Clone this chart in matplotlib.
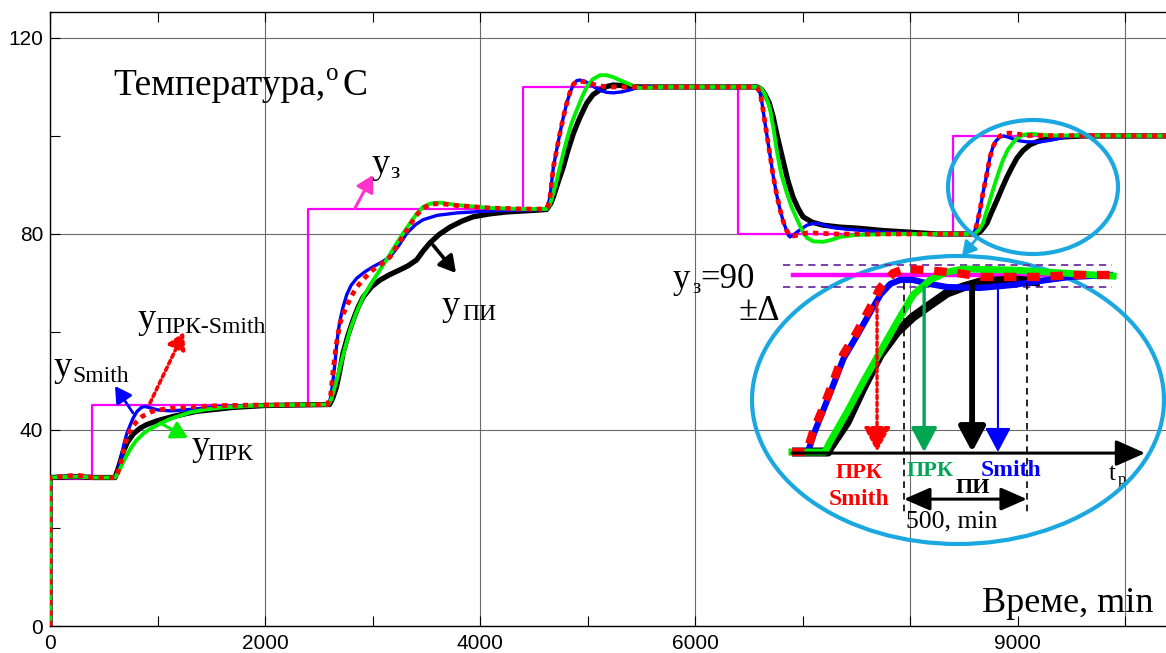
import matplotlib
matplotlib.use('Agg')
import matplotlib.pyplot as plt
from matplotlib.patches import Ellipse

plt.rcParams['font.family'] = ['Liberation Sans', 'DejaVu Sans']
SERIF = ['Liberation Serif', 'DejaVu Serif']

# ---------------- data (main chart) ----------------
sp_times = [0, 390, 2400, 4400, 6400, 8400, 10500]
sp_values = [30, 45, 85, 110, 80, 100, 100]

smith_t = [0, 0, 250, 400, 605, 630, 650, 670, 690, 715, 744, 775, 810, 850, 880, 920, 1000, 1120,
           1250, 1400, 1600, 2000,
           2580, 2605, 2620, 2633, 2650, 2665, 2680, 2698, 2725, 2760, 2800, 2855, 2930, 3005, 3080,
           3163, 3240, 3321, 3400, 3470, 3600, 3786, 4093, 4400,
           4600, 4630, 4651, 4683, 4715, 4744, 4775, 4807, 4840, 4870, 4900, 4930, 4970, 5023, 5070,
           5116, 5180, 5240, 5320, 5395, 5470, 5550, 5700,
           6550, 6580, 6605, 6625, 6645, 6670, 6700, 6726, 6760, 6791, 6820, 6850, 6870, 6884, 6910,
           6949, 7000, 7042, 7090, 7135, 7200, 7284, 7400, 7507, 7700, 7900, 8200,
           8586, 8600, 8620, 8651, 8679, 8716, 8744, 8772, 8800, 8837, 8870, 8910, 8958, 9020, 9088,
           9209, 9300, 9367, 9450, 9550, 10500]
smith_y = [0, 30.3, 30.6, 30.3, 30.3, 31.5, 33.2, 35.3, 37.3, 39.3, 40.9, 42.5, 43.8, 44.6, 44.8, 44.6, 44.1, 43.9,
           44.1, 44.4, 44.8, 45,
           45.2, 46.1, 48, 50.2, 53.5, 57, 60, 62.4, 65, 67.6, 69.5, 71, 72.3, 73.3, 74.2,
           75.3, 77.5, 80.2, 81.9, 82.9, 83.8, 84.3, 84.7, 84.9,
           85, 85.6, 87.6, 93.7, 97.4, 100.6, 103.8, 106.7, 109, 110.6, 111.3, 111.4, 111.2, 110.6, 109.9,
           109.3, 108.9, 108.8, 109, 109.4, 109.9, 110.1, 110,
           110, 109.8, 108.8, 106.5, 103.5, 100, 95.8, 92, 88, 85, 82.6, 80.8, 79.7, 79.4, 79.7,
           80.4, 81.2, 81.8, 82.1, 82.2, 81.8, 81.3, 81, 80.8, 80.4, 80.2, 80,
           80, 80.5, 81.8, 84.9, 88.4, 92.4, 95.7, 97.8, 99, 99.8, 100, 99.8, 99.4, 99, 98.8,
           98.8, 99.1, 99.4, 99.8, 100, 100]

prks_t = [0, 0, 250, 400, 605, 630, 660, 690, 720, 760, 810, 860, 950, 1090, 1300, 1600, 2000,
          2580, 2610, 2633, 2660, 2698, 2730, 2760, 2800, 2855, 2930, 3005, 3080, 3163, 3240, 3321,
          3400, 3470, 3550, 3628, 3786, 4093, 4400,
          4600, 4630, 4651, 4683, 4715, 4744, 4775, 4807, 4840, 4870, 4900, 4930, 4980, 5023, 5085,
          5160, 5240, 5700,
          6550, 6580, 6605, 6625, 6645, 6670, 6700, 6726, 6760, 6791, 6820, 6850, 6884, 6920, 6960,
          7042, 7100, 7300,
          8586, 8600, 8620, 8651, 8679, 8716, 8744, 8772, 8805, 8837, 8880, 8930, 8990, 9100, 10500]
prks_y = [0, 30.3, 30.8, 30.3, 30.3, 31.2, 33.5, 36.3, 38.7, 40.5, 41.8, 42.8, 43.8, 44.4, 44.7, 45, 45.1,
          45.2, 47, 52, 57, 61.8, 63.8, 65.2, 67.2, 69.2, 71.1, 72.7, 73.8, 75.3, 78, 80.8,
          83.6, 85.3, 86.1, 86.2, 85.8, 85.3, 85.1,
          85.1, 85.6, 87.6, 93.7, 97.4, 100.6, 103.8, 106.7, 109.1, 110.6, 111.1, 111.2, 111.0, 110.8, 110.3,
          110.1, 110, 110,
          110, 109.8, 108.8, 106.5, 103.5, 100, 95.8, 92, 88, 85, 82.6, 80.8, 79.6, 79.6, 79.8,
          80.2, 80.2, 80,
          80, 80.5, 81.8, 84.9, 88.4, 92.4, 95.7, 97.8, 99.2, 100, 100.5, 100.6, 100.4, 100.1, 100]

prk_t = [0, 0, 250, 400, 605, 650, 700, 750, 800, 870, 930, 1000, 1100, 1178, 1302, 1450, 1609, 1925,
         2590, 2615, 2633, 2665, 2698, 2745, 2791, 2850, 2912, 2990, 3070, 3150, 3228, 3290, 3349,
         3410, 3470, 3540, 3628, 3786, 4093, 4400,
         4620, 4650, 4683, 4714, 4744, 4775, 4807, 4850, 4900, 4950, 4993, 5050, 5116, 5180, 5240,
         5300, 5365, 5430, 5488, 5600, 5700,
         6580, 6620, 6650, 6675, 6698, 6730, 6760, 6800, 6853, 6900, 6949, 6995, 7042, 7100, 7191,
         7270, 7349, 7500, 7800,
         8600, 8640, 8679, 8725, 8772, 8820, 8865, 8910, 8958, 9000, 9051, 9100, 9150, 9300, 10500]
prk_y = [0, 30.3, 30.5, 30.3, 30.3, 32, 34.3, 36.2, 37.8, 39.3, 40.2, 41, 42.1, 42.7, 43.6, 44.2, 44.6, 45,
         45.2, 46.2, 47.5, 50, 52.9, 56.8, 60.4, 64, 67.1, 70, 72.7, 75.4, 78.2, 80.3, 82.2,
         84.1, 85.5, 86.2, 86.4, 85.9, 85.3, 85.1,
         85.1, 86, 88.4, 91, 93.7, 96.5, 99.2, 102.5, 105.3, 108, 110, 111.6, 112.4, 112.4, 112,
         111.4, 110.8, 110.2, 109.8, 109.9, 110,
         110, 109.6, 108.5, 107, 105.5, 101.5, 97.1, 92.4, 88.4, 85.4, 83, 80.8, 79.2, 78.5, 78.4,
         78.8, 79.4, 79.8, 80,
         80, 80.8, 82.2, 85.6, 89, 92.3, 95.1, 97.2, 98.6, 99.6, 100.2, 100.4, 100.4, 100.1, 100]

pi_t = [0, 0, 250, 400, 605, 640, 680, 720, 775, 840, 900, 1000, 1150, 1365, 1700, 2000,
        2600, 2630, 2665, 2695, 2726, 2770, 2819, 2865, 2912, 2990, 3070, 3160, 3256, 3330, 3410,
        3470, 3535, 3620, 3721, 3830, 3935, 4090, 4251, 4558,
        4620, 4660, 4683, 4730, 4775, 4820, 4870, 4930, 4993, 5050, 5116, 5180, 5240, 5320, 5400, 5500,
        6580, 6620, 6650, 6690, 6726, 6770, 6819, 6865, 6912, 6960, 7005, 7090, 7191, 7350, 7507,
        7750, 7972, 8250,
        8620, 8660, 8716, 8760, 8809, 8855, 8902, 8950, 8995, 9050, 9116, 9190, 9274, 9350, 9423,
        9600, 10500]
pi_y = [0, 30.3, 30.5, 30.3, 30.3, 32.5, 35.5, 37.5, 39.2, 40.4, 41.1, 41.9, 42.8, 43.8, 44.6, 45,
        45.2, 46.5, 48.8, 52, 55.7, 59.2, 62.4, 65, 67.1, 69.2, 70.6, 71.7, 72.7, 73.5, 74.7,
        76.5, 78.2, 79.9, 81.4, 82.6, 83.5, 84.1, 84.5, 84.9,
        85, 86.3, 87.6, 90.8, 93.7, 97.2, 100.6, 103.8, 106.7, 108.4, 109.4, 110.1, 110.4, 110.3, 110.1, 110,
        110, 109.5, 108.5, 106.8, 104, 99.5, 95, 90.8, 87.5, 85.2, 83.5, 82.4, 81.8, 81.4, 81.2,
        80.7, 80.4, 80,
        80, 80.6, 82.2, 84.5, 86.9, 89.3, 91.6, 93.7, 95.5, 97, 98.2, 98.9, 99.4, 99.6, 99.8,
        100, 100]

x_major = [0, 2000, 4000, 6000, 8000, 10000]
x_major_labels = ['0', '2000', '4000', '6000', '', '']
x_minor = [1000, 3000, 5000, 7000, 9000]
x_minor_labels = ['', '', '', '', '9000']
y_major = [0, 40, 80, 120]
y_minor = [20, 60, 100]

# ---------------- data (zoomed inset, schematic) ----------------
in_red_t = [0, 60, 85, 126, 167, 207, 264, 317, 358, 411, 459, 549, 671, 776, 898, 1020, 1130, 1293]
in_red_y = [80, 80, 81.13, 82.49, 83.95, 85.48, 86.78, 88.14, 89.27, 90.11, 90.34, 90.28, 90.11,
            89.89, 89.89, 89.89, 90.0, 90.0]
in_blue_t = [0, 65, 88, 128, 168, 210, 265, 318, 360, 400, 439, 492, 561, 630, 764, 898, 1037, 1130, 1293]
in_blue_y = [80, 80, 81.0, 82.4, 83.8, 85.3, 86.6, 87.9, 88.9, 89.5, 89.72, 89.72, 89.49, 89.32,
             89.27, 89.44, 89.72, 89.89, 90.0]
in_green_t = [0, 134, 154, 224, 289, 358, 427, 492, 561, 630, 695, 898, 1102, 1305]
in_green_y = [80, 80, 80.56, 82.26, 83.95, 85.65, 87.34, 88.87, 89.72, 90.17, 90.34, 90.28, 90.11, 89.94]
in_black_t = [0, 146, 154, 224, 289, 358, 427, 492, 561, 630, 695, 764, 898, 1008]
in_black_y = [80, 80, 80.23, 81.69, 83.62, 85.48, 86.78, 87.63, 88.31, 88.98, 89.32, 89.6, 89.72, 89.6]
in_setpoint = 90
in_band = [90.56, 89.32]
in_settle_t = [345.5, 537, 732, 837]          # ПРК-Smith, ПРК, ПИ, Smith
in_settle_top = [88.47, 89.32, 89.55, 89.32]
in_window = [455, 955]                          # 500 min window

# ---------------- figure ----------------
W, H = 1166, 653
fig = plt.figure(figsize=(W / 100, H / 100), dpi=100)


def fx(x):
    return x / W


def fy(y):
    return 1 - y / H


ax = fig.add_axes([fx(50), fy(626), 1128.75 / W, 614 / H])
ax.set_xlim(0, 10500)
ax.set_ylim(0, 125.3)

ax.set_xticks(x_major)
ax.set_xticklabels(x_major_labels)
ax.set_xticks(x_minor, minor=True)
ax.set_xticklabels(x_minor_labels, minor=True)
ax.set_yticks(y_major)
ax.set_yticks(y_minor, minor=True)
ax.tick_params(which='both', direction='in', top=True, right=True, length=7, width=0.8,
               labelsize=15, colors='black')
ax.tick_params(axis='x', which='both', pad=6)
ax.tick_params(axis='y', which='both', pad=5)
ax.grid(True, which='major', color='#6a6a6a', lw=0.8)
for s in ax.spines.values():
    s.set_linewidth(1.0)

ax.step(sp_times, sp_values, where='post', color='#FF00FF', lw=1.6, zorder=3)
ax.plot(pi_t, pi_y, color='black', lw=3.8, zorder=4)
ax.plot(smith_t, smith_y, color='#0000FF', lw=2.4, zorder=5)
ax.plot(prk_t, prk_y, color='#00EE00', lw=2.8, zorder=6)
ax.plot(prks_t, prks_y, color='#FF0000', lw=3.4, ls=(0, (1.1, 1.1)), zorder=7)


def ptext(x, ybase, s, size, **kw):
    fig.text(fx(x), fy(ybase), s, fontsize=size, family=SERIF, va='baseline', ha='left', **kw)


def ylab(ux, ubase, sub, sx, sbase):
    ptext(ux, ubase, 'у', 26)
    ptext(sx, sbase, sub, 17)


def parrow(x0, y0, x1, y1, color, lw, ls='-', ms=16, hl=0.7, hw=0.4):
    ax.annotate('', xy=(x1, H - y1), xytext=(x0, H - y0),
                xycoords='figure pixels', textcoords='figure pixels',
                arrowprops=dict(arrowstyle='-|>,head_length=%g,head_width=%g' % (hl, hw),
                                color=color, lw=lw, ls=ls, shrinkA=0, shrinkB=0,
                                mutation_scale=ms), annotation_clip=False, zorder=8)


# axis titles
ptext(113, 95, 'Температура,', 27)
ptext(326, 80, 'o', 18)
ptext(343, 95, 'C', 27)
ptext(982, 612, 'Време, min', 26)

# curve labels
ylab(371, 173, 'з', 390, 178)
ylab(442, 315, 'ПИ', 462, 320)
ylab(137, 328, 'ПРК-Smith', 155, 333)
ylab(54, 376, 'Smith', 72, 382)
ylab(191, 455, 'ПРК', 207, 460)

parrow(355, 208, 373, 175, '#FF33CC', 2.2, ms=14)
parrow(433, 245, 456, 273, 'black', 2.6, ms=14)
parrow(150, 403, 184, 332, '#FF0000', 2.6, ls=(0, (1, 1)), ms=14)
parrow(133, 413, 115, 386, '#0000FF', 2.0, ms=14)
parrow(160, 423, 188, 438, '#00EE00', 2.2, ms=14)

# ellipses
EC = '#1BA8E0'
fig.add_artist(Ellipse((fx(958), fy(400)), 412 / W, 288 / H, transform=fig.transFigure,
                       fill=False, ec=EC, lw=3.0, zorder=9))
fig.add_artist(Ellipse((fx(1033), fy(187)), 170 / W, 134 / H, transform=fig.transFigure,
                       fill=False, ec=EC, lw=3.0, zorder=9))
parrow(978, 237, 962, 256, EC, 2.0, ms=12)

# ---------------- inset ----------------
iax = fig.add_axes([fx(780), fy(520), 370 / W, 265 / H], zorder=10)
iax.set_xlim(-48.8, 1455)
iax.set_ylim(76.16, 91.13)
iax.axis('off')
iax.patch.set_alpha(0)

for yb in in_band:
    iax.plot([-37, 1300], [yb, yb], color='#7030A0', lw=1.3, ls=(0, (4, 3)))
iax.plot([4, 1293], [in_setpoint, in_setpoint], color='#FF00FF', lw=3.2)
iax.plot(in_black_t, in_black_y, color='black', lw=6.5, solid_capstyle='butt')
iax.plot(in_blue_t, in_blue_y, color='#0000FF', lw=4.5)
iax.plot(in_green_t, in_green_y, color='#00EE00', lw=5.0)
iax.plot(in_red_t, in_red_y, color='#FF0000', lw=6.0, ls=(0, (1.5, 1.3)))

settle_cols = ['#FF0000', '#00A651', 'black', '#0000FF']
settle_lw = [2.4, 2.4, 4.2, 1.5]
settle_ls = [(0, (1, 1)), '-', '-', '-']
for t, top, c, lw, ls in zip(in_settle_t, in_settle_top, settle_cols, settle_lw, settle_ls):
    iax.annotate('', xy=(t, 80.0), xytext=(t, top),
                 arrowprops=dict(arrowstyle='-|>,head_length=0.75,head_width=0.4', color=c,
                                 lw=lw, ls=ls, shrinkA=0, shrinkB=0, mutation_scale=20))
for t in in_window:
    iax.plot([t, t], [89.55, 76.44], color='black', lw=1.2, ls=(0, (4, 3)))
iax.annotate('', xy=(1435, 79.94), xytext=(0, 79.94),
             arrowprops=dict(arrowstyle='-|>,head_length=0.9,head_width=0.4', color='black',
                             lw=2.2, shrinkA=0, shrinkB=0, mutation_scale=20))
iax.annotate('', xy=(in_window[1], 77.34), xytext=(in_window[0], 77.34),
             arrowprops=dict(arrowstyle='<|-|>,head_length=0.8,head_width=0.35', color='black',
                             lw=2.2, shrinkA=0, shrinkB=0, mutation_scale=20))

# inset texts
ptext(673, 288, 'у', 25)
ptext(692, 293, 'з', 15)
ptext(700, 288, '=90', 25)
ptext(739, 320, '±Δ', 25)
ptext(836, 478, 'ПРК', 16, color='#FF0000', weight='bold')
ptext(829, 505, 'Smith', 17, color='#FF0000', weight='bold')
ptext(907, 476, 'ПРК', 16, color='#00A651', weight='bold')
ptext(981, 476, 'Smith', 17, color='#0000FF', weight='bold')
ptext(956, 493, 'ПИ', 16, color='black', weight='bold')
ptext(906, 527, '500, min', 18.5)
ptext(1109, 480, 't', 18)
ptext(1118, 484, 'p', 12)

fig.savefig('out.png', dpi=100)
